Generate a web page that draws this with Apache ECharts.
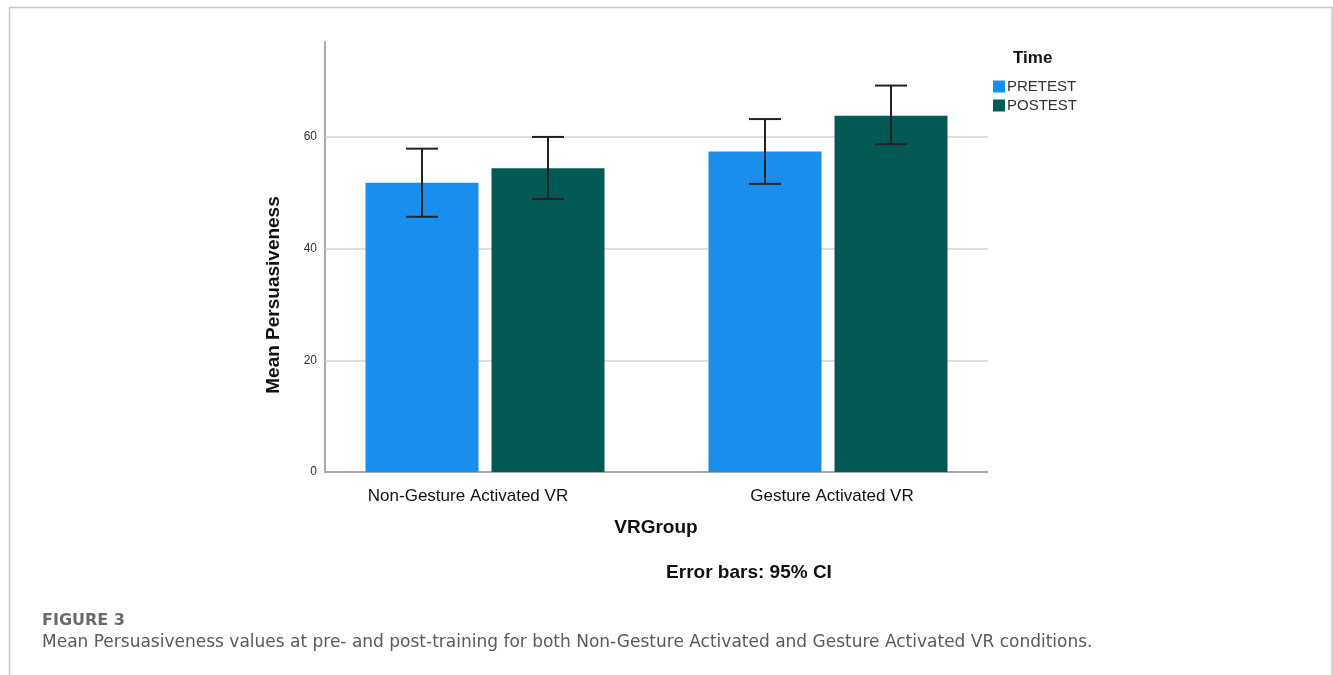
<!DOCTYPE html>
<html>
<head>
<meta charset="utf-8">
<script src="https://cdn.jsdelivr.net/npm/echarts@6/dist/echarts.min.js"></script>
<style>
  html, body { margin: 0; padding: 0; background: #fff; }
  #chart { width: 1333px; height: 675px; }
</style>
</head>
<body>
<div id="chart"></div>
<script>
// Mean persuasiveness by VR group and test time, with 95% CI
const categories = ['Non-Gesture Activated VR', 'Gesture Activated VR'];
const seriesNames = ['PRETEST', 'POSTEST'];
const pretestMean = [51.8, 57.4];
const pretestLow  = [45.7, 51.6];
const pretestHigh = [57.9, 63.2];
const posttestMean = [54.4, 63.8];
const posttestLow  = [48.9, 58.7];
const posttestHigh = [60.0, 69.2];
const yTicks = [0, 20, 40, 60];

const colors = ['#1a8eec', '#035a55'];
const BAR_W = 113;
const BAR_GAP = 13;
// visible plot frame (axis lines and gridlines) sits slightly inside the category bands
const PLOT_X0 = 325;
const PLOT_X1 = 988;

const chart = echarts.init(document.getElementById('chart'), null, { renderer: 'canvas' });

function errorSeries(idx, low, high) {
  const data = categories.map((c, i) => [i, low[i], high[i]]);
  return {
    type: 'custom',
    name: seriesNames[idx] + ' CI',
    z: 10,
    silent: true,
    data: data,
    renderItem: function (params, api) {
      const ci = api.value(0);
      const lo = api.coord([ci, api.value(1)]);
      const hi = api.coord([ci, api.value(2)]);
      const off = (idx === 0 ? -1 : 1) * (BAR_W + BAR_GAP) / 2;
      const x = lo[0] + off;
      const cap = 16;
      const style = { stroke: '#222', lineWidth: 2 };
      return {
        type: 'group',
        children: [
          { type: 'line', shape: { x1: x, y1: lo[1], x2: x, y2: hi[1] }, style: style },
          { type: 'line', shape: { x1: x - cap, y1: hi[1], x2: x + cap, y2: hi[1] }, style: style },
          { type: 'line', shape: { x1: x - cap, y1: lo[1], x2: x + cap, y2: lo[1] }, style: style }
        ]
      };
    }
  };
}

// horizontal reference lines drawn through the value axis, clipped to the plot frame
function hLine(v, color, width) {
  return [
    { x: PLOT_X0, yAxis: v, lineStyle: { color: color, width: width, type: 'solid' } },
    { x: PLOT_X1, yAxis: v }
  ];
}

const option = {
  animation: false,
  backgroundColor: '#fff',
  textStyle: { fontFamily: 'Liberation Sans, Arial, sans-serif' },
  grid: { left: 313.5, right: 333.5, top: 42, bottom: 203, containLabel: false },
  legend: {
    data: seriesNames,
    orient: 'vertical',
    left: 988,
    top: 74,
    itemWidth: 12,
    itemHeight: 12,
    itemGap: 4,
    icon: 'rect',
    textStyle: { fontSize: 15, color: '#333', fontFamily: 'Liberation Sans, Arial, sans-serif', padding: [0, 0, 0, -3] }
  },
  xAxis: {
    type: 'category',
    data: categories,
    axisLine: { show: false },
    axisTick: { show: false },
    axisLabel: {
      margin: 16,
      interval: 0,
      formatter: function (v, i) { return i === 0 ? '{a|' + v + '}' : '{b|' + v + '}'; },
      rich: {
        a: { fontSize: 17, color: '#111', padding: [0, 34, 0, 0] },
        b: { fontSize: 17, color: '#111', padding: [0, 0, 0, 8] }
      }
    }
  },
  yAxis: {
    type: 'value',
    min: 0,
    max: 77,
    interval: 20,
    offset: -(PLOT_X0 - 313.5),
    axisLine: { show: true, lineStyle: { color: '#aaa', width: 2 } },
    axisTick: { show: false },
    axisLabel: {
      fontSize: 12,
      color: '#333',
      margin: 8,
      showMaxLabel: false,
      formatter: function (v) { return yTicks.indexOf(v) >= 0 ? String(v) : ''; }
    },
    splitLine: { show: false }
  },
  series: [
    {
      name: seriesNames[0], type: 'bar', data: pretestMean,
      barWidth: BAR_W, barGap: (BAR_GAP / BAR_W * 100) + '%',
      itemStyle: { color: colors[0] },
      markLine: {
        silent: true,
        symbol: ['none', 'none'],
        label: { show: false },
        z: 1,
        data: yTicks.filter(v => v > 0).map(v => hLine(v, '#d4d4d4', 1.5))
          .concat([hLine(0, '#aaa', 2)])
      }
    },
    {
      name: seriesNames[1], type: 'bar', data: posttestMean,
      barWidth: BAR_W,
      itemStyle: { color: colors[1] }
    },
    errorSeries(0, pretestLow, pretestHigh),
    errorSeries(1, posttestLow, posttestHigh)
  ],
  graphic: [
    // figure frame
    { type: 'line', shape: { x1: 9, y1: 7.5, x2: 1333, y2: 7.5 }, style: { stroke: '#c8c8c8', lineWidth: 1.5 } },
    { type: 'line', shape: { x1: 9.5, y1: 7, x2: 9.5, y2: 675 }, style: { stroke: '#c8c8c8', lineWidth: 1.5 } },
    { type: 'line', shape: { x1: 1332, y1: 7, x2: 1332, y2: 675 }, style: { stroke: '#c8c8c8', lineWidth: 1.5 } },
    // axis titles
    {
      type: 'text', x: 274, y: 295, rotation: Math.PI / 2,
      style: { text: 'Mean Persuasiveness', font: 'bold 19px Liberation Sans, Arial, sans-serif', fill: '#111', align: 'center', verticalAlign: 'middle' }
    },
    {
      type: 'text', x: 656, y: 528,
      style: { text: 'VRGroup', font: 'bold 19px Liberation Sans, Arial, sans-serif', fill: '#111', align: 'center', verticalAlign: 'middle' }
    },
    {
      type: 'text', x: 749, y: 573,
      style: { text: 'Error bars: 95% CI', font: 'bold 19px Liberation Sans, Arial, sans-serif', fill: '#111', align: 'center', verticalAlign: 'middle' }
    },
    {
      type: 'text', x: 1013, y: 58,
      style: { text: 'Time', font: 'bold 17px Liberation Sans, Arial, sans-serif', fill: '#111', align: 'left', verticalAlign: 'middle' }
    },
    // caption
    {
      type: 'text', x: 42, y: 621,
      style: { text: 'FIGURE 3', font: 'bold 16px DejaVu Sans, sans-serif', fill: '#6a6a6a', align: 'left', verticalAlign: 'middle' }
    },
    {
      type: 'text', x: 42, y: 643,
      style: { text: 'Mean Persuasiveness values at pre- and post-training for both Non-Gesture Activated and Gesture Activated VR conditions.', font: '17px DejaVu Sans, sans-serif', fill: '#5a5a5a', align: 'left', verticalAlign: 'middle' }
    }
  ]
};

chart.setOption(option);
</script>
</body>
</html>
